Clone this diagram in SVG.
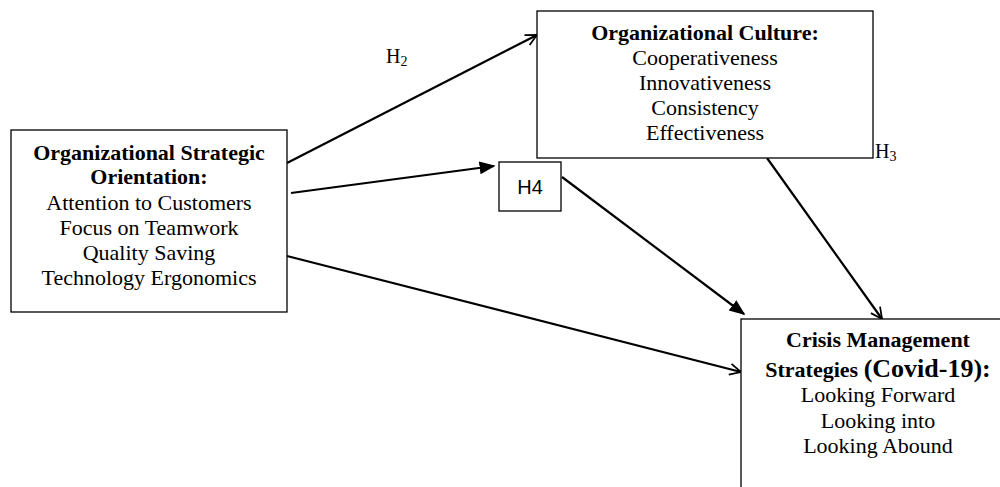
<svg xmlns="http://www.w3.org/2000/svg" width="1000" height="487" viewBox="0 0 1000 487">
<style>
.box{fill:#fff;stroke:#000;stroke-width:1.3}
.t{font-family:"Liberation Serif","Times New Roman",serif;font-size:22px;fill:#000;text-anchor:middle}
.b{font-weight:bold}
.ln{stroke:#000;stroke-width:2.2;fill:none}
.lab{font-family:"Liberation Serif","Times New Roman",serif;font-size:20px;fill:#000}
</style>
<defs>
<marker id="open" viewBox="0 0 20 20" refX="18" refY="10" markerWidth="14" markerHeight="14" markerUnits="userSpaceOnUse" orient="auto">
<path d="M2,2 L18,10 L2,18" fill="none" stroke="#000" stroke-width="2.5"/>
</marker>
<marker id="fill" viewBox="0 0 20 20" refX="18" refY="10" markerWidth="16" markerHeight="16" markerUnits="userSpaceOnUse" orient="auto">
<path d="M0,2 L20,10 L0,18 Z" fill="#000"/>
</marker>
</defs>
<rect width="1000" height="487" fill="#fff"/>
<g id="connectors">
<line class="ln" x1="287" y1="163" x2="537" y2="35" marker-end="url(#open)"/>
<line class="ln" x1="291" y1="193" x2="494" y2="166" marker-end="url(#fill)"/>
<line class="ln" x1="562" y1="177" x2="744" y2="314" marker-end="url(#fill)"/>
<line class="ln" x1="767" y1="158" x2="882" y2="319" marker-end="url(#open)"/>
<line class="ln" x1="287" y1="256" x2="741" y2="372" marker-end="url(#open)"/>
</g>
<g id="orientation">
<rect class="box" x="11" y="130" width="276" height="182"/>
<text class="t b" x="149" y="160">Organizational Strategic</text>
<text class="t b" x="149" y="184">Orientation:</text>
<text class="t" x="149" y="210">Attention to Customers</text>
<text class="t" x="149" y="235">Focus on Teamwork</text>
<text class="t" x="149" y="260">Quality Saving</text>
<text class="t" x="149" y="285">Technology Ergonomics</text>
</g>
<g id="culture">
<rect class="box" x="537" y="11" width="336" height="147"/>
<text class="t b" x="705" y="40">Organizational Culture:</text>
<text class="t" x="705" y="65">Cooperativeness</text>
<text class="t" x="705" y="90">Innovativeness</text>
<text class="t" x="705" y="115">Consistency</text>
<text class="t" x="705" y="140">Effectiveness</text>
</g>
<g id="h4">
<rect class="box" x="499" y="162" width="62" height="49"/>
<text x="530" y="194" font-family="'Liberation Sans',Arial,sans-serif" font-size="20" text-anchor="middle">H4</text>
</g>
<g id="crisis">
<rect class="box" x="741" y="319" width="270" height="180"/>
<text class="t b" x="878" y="347">Crisis Management</text>
<text class="t b" x="878" y="377">Strategies <tspan font-size="26">(Covid-19):</tspan></text>
<text class="t" x="878" y="402">Looking Forward</text>
<text class="t" x="878" y="428">Looking into</text>
<text class="t" x="878" y="453">Looking Abound</text>
</g>
<g id="labels">
<text class="lab" x="386" y="63">H<tspan font-size="14" dy="3">2</tspan></text>
<text class="lab" x="875" y="158">H<tspan font-size="14" dy="3">3</tspan></text>
</g>
</svg>
